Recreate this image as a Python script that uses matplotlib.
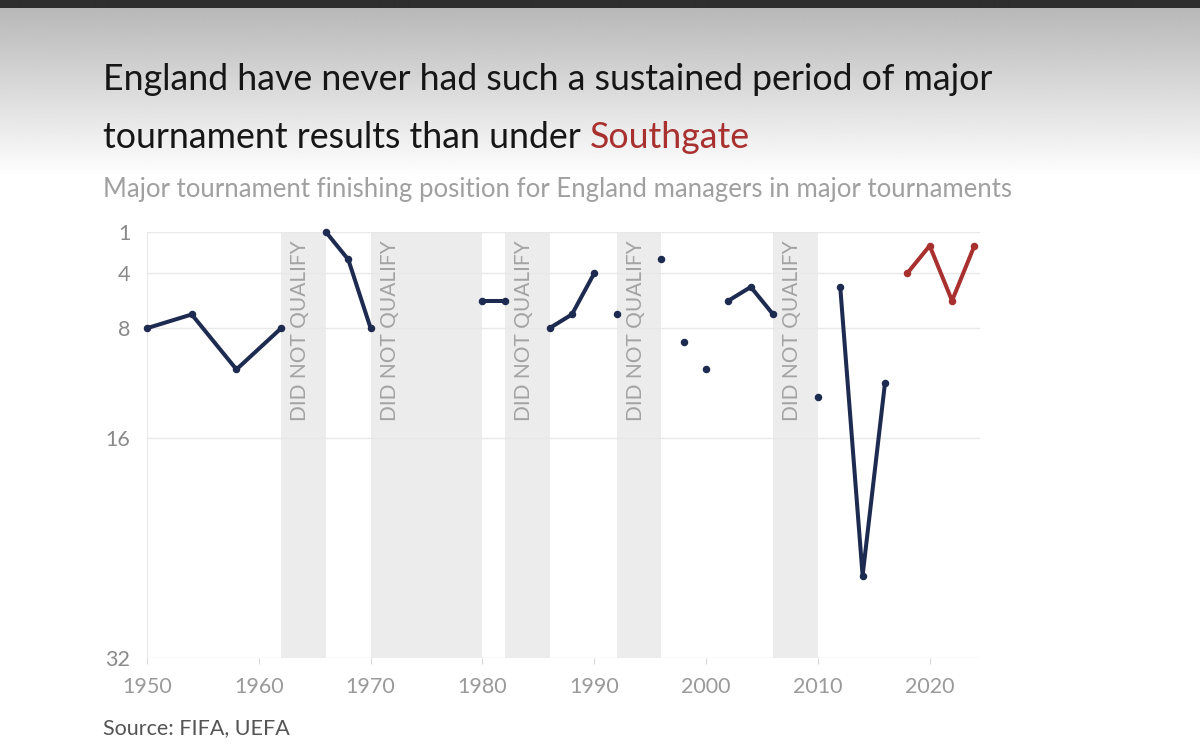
import numpy as np
import matplotlib.pyplot as plt

# finishing positions, grouped into unbroken spells
years = [1950, 1954, 1958, 1962, 1966, 1968, 1970, 1980, 1982, 1986, 1988, 1990,
         1992, 1996, 1998, 2000, 2002, 2004, 2006, 2010, 2012, 2014, 2016]
position = [8, 7, 11, 8, 1, 3, 8, 6, 6, 8, 7, 4,
            7, 3, 9, 11, 6, 5, 7, 13, 5, 26, 12]
spell = [0, 0, 0, 0, 1, 1, 1, 2, 2, 3, 3, 3,
         4, 5, 6, 7, 8, 8, 8, 9, 10, 10, 10]

southgate_years = [2018, 2020, 2022, 2024]
southgate_position = [4, 2, 6, 2]

dnq_start = [1962, 1970, 1982, 1992, 2006]
dnq_end = [1966, 1980, 1986, 1996, 2010]

yticks = [1, 4, 8, 16, 32]
xticks = [1950, 1960, 1970, 1980, 1990, 2000, 2010, 2020]

NAVY = "#1e2b50"
RED = "#a8302f"
FONT = "Lato"

W, H = 1200, 751
fig = plt.figure(figsize=(W / 100, H / 100), dpi=100)


def px(x, y):
    return x / W, 1 - y / H


# grey gradient header behind the title
bg = fig.add_axes([0, 0, 1, 1], zorder=-10)
rows = np.ones(H)
rows[8:178] = np.linspace(0.72, 1.0, 170)
rows[:8] = 0.18
bg.imshow(np.tile(rows[:, None], (1, 4)), cmap="gray", vmin=0, vmax=1,
          aspect="auto", extent=[0, 1, 0, 1], interpolation="bilinear")
bg.set_axis_off()

ax = fig.add_axes([147 / W, 93 / H, (980 - 147) / W, (658 - 232) / H])

for s, e in zip(dnq_start, dnq_end):
    ax.axvspan(s, e, color="#ececec", zorder=0, lw=0)
    ax.text(s + 0.8, 1.6, "DID NOT QUALIFY", rotation=90, ha="left", va="top",
            fontsize=15, color="#a3a3a3", family=FONT, zorder=1)

yrs = np.array(years)
pos = np.array(position)
sp = np.array(spell)
for k in np.unique(sp):
    m = sp == k
    ax.plot(yrs[m], pos[m], color=NAVY, lw=2.9, marker="o", ms=4.4,
            solid_capstyle="round", clip_on=False, zorder=3)

ax.plot(southgate_years, southgate_position, color=RED, lw=2.9, marker="o",
        ms=4.4, clip_on=False, zorder=3)

ax.set_xlim(1950, 2024.5)
ax.set_ylim(32, 1)
ax.set_yticks(yticks)
ax.set_xticks(xticks)
ax.grid(axis="y", color="#e8e8e8", lw=1)
ax.set_axisbelow(True)
for side in ["top", "right", "bottom"]:
    ax.spines[side].set_visible(False)
ax.spines["left"].set_color("#e8e8e8")
ax.tick_params(axis="y", length=0, pad=12, labelsize=15.5, labelcolor="#8a8a8a")
ax.tick_params(axis="x", length=4, color="#d8d8d8", pad=10, labelsize=15.5,
               labelcolor="#9a9a9a")
for lab in ax.get_xticklabels() + ax.get_yticklabels():
    lab.set_family(FONT)
ax.set_facecolor("none")

title_kw = dict(fontsize=25.7, family=FONT, va="center")
fig.text(*px(103, 80), "England have never had such a sustained period of major",
         color="#161616", **title_kw)
t2 = fig.text(*px(103, 137), "tournament results than under ",
              color="#161616", **title_kw)
ax.annotate("Southgate", xy=(1, 0), xycoords=t2, va="bottom", ha="left",
            fontsize=25.7, color=RED, family=FONT, annotation_clip=False)

fig.text(*px(103, 190), "Major tournament finishing position for England managers in major tournaments",
         fontsize=18.5, color="#a0a0a0", family=FONT, va="center")
fig.text(*px(103, 728), "Source: FIFA, UEFA", fontsize=15.5, color="#555555",
         family=FONT, va="center")

fig.savefig("out.png", dpi=100)
